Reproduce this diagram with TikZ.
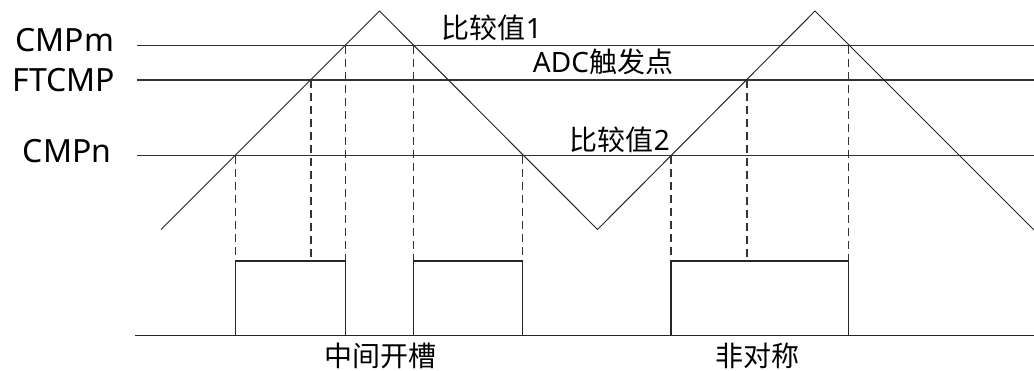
\documentclass[tikz,border=0pt]{standalone}
\usepackage{fontspec}
\setmainfont{Noto Sans}
\newfontfamily\cjk{Noto Sans CJK SC}
\begin{document}
\begin{tikzpicture}[x=1pt,y=-1pt,
  lvl/.style={line width=1.3pt, draw=black!80},
  wave/.style={line width=1pt, draw=black!85},
  drop/.style={line width=1.4pt, draw=black!80, dash pattern=on 8pt off 5pt},
  pulse/.style={line width=1.3pt, draw=black!85},
  lbl/.style={font=\fontsize{32}{36}\selectfont, inner sep=0pt},
  note/.style={font=\fontsize{28}{32}\selectfont, inner sep=0pt}]
\useasboundingbox (0,0) rectangle (1034,370);
% level labels
\node[lbl] (m) at (65,40) {CMPm};
\node[lbl] (f) at (64,80) {FTCMP};
\node[lbl] (n) at (67,151) {CMPn};
% level lines
\coordinate (mL) at (137,45.5); \coordinate (mR) at (1034,45.5);
\coordinate (fL) at (137,80);   \coordinate (fR) at (1034,80);
\coordinate (nL) at (137,155.5);\coordinate (nR) at (1034,155.5);
\draw[lvl] (mL) -- (mR);
\draw[lvl] (fL) -- (fR);
\draw[lvl] (nL) -- (nR);
% triangle wave
\coordinate (w0) at (161,229.5);
\coordinate (w1) at (379.5,11);
\coordinate (w2) at (597.5,229.5);
\coordinate (w3) at (815,11);
\coordinate (w4) at (1034,230);
\draw[wave] (w0) -- (w1) -- (w2) -- (w3) -- (w4);
% crossing points
\coordinate (c1) at (235.5,155.5);
\coordinate (c2) at (311,80);
\coordinate (c3) at (345.5,45.5);
\coordinate (c4) at (413.5,45.5);
\coordinate (c5) at (522.5,155.5);
\coordinate (c6) at (671,155.5);
\coordinate (c7) at (747,80);
\coordinate (c8) at (848.5,45.5);
% pulse corners
\coordinate (b0) at (135,335.5); \coordinate (b9) at (1034,335.5);
\coordinate (t1) at (235.5,261); \coordinate (t3) at (345.5,261);
\coordinate (t4) at (413.5,261); \coordinate (t5) at (522.5,261);
\coordinate (t6) at (671,261);   \coordinate (t8) at (848.5,261);
\coordinate (e2) at (311,258);   \coordinate (e7) at (747,258);
% dashed drops
\draw[drop] (c1) -- (t1);
\draw[drop] (c2) -- (e2);
\draw[drop] (c3) -- (t3);
\draw[drop] (c4) -- (t4);
\draw[drop] (c5) -- (t5);
\draw[drop] (c6) -- (t6);
\draw[drop] (c7) -- (e7);
\draw[drop] (c8) -- (t8);
% pulses
\draw[pulse] (b0) -- (b9);
\draw[pulse] (t1 |- b0) -- (t1) -- (t3) -- (t3 |- b0);
\draw[pulse] (t4 |- b0) -- (t4) -- (t5) -- (t5 |- b0);
\draw[pulse] (t6 |- b0) -- (t6) -- (t8) -- (t8 |- b0);
% annotations
\node[note] (v1) at (492,28) {{\cjk 比较值}1};
\node[note] (adc) at (603,62) {ADC{\cjk 触发点}};
\node[note] (v2) at (620,140) {{\cjk 比较值}2};
\node[note] (mid) at (380,356) {\cjk 中间开槽};
\node[note] (asym) at (757,356) {\cjk 非对称};
\end{tikzpicture}
\end{document}
